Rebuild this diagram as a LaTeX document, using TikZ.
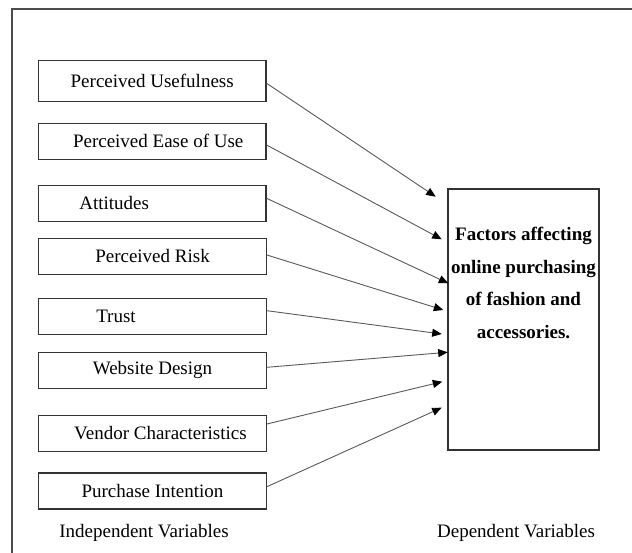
\documentclass[tikz,border=0pt]{standalone}
\usepackage{fontspec}
\setmainfont{Liberation Serif}
\usetikzlibrary{arrows.meta}
\begin{document}
\begin{tikzpicture}[x=1pt,y=-1pt,
  ivbox/.style={draw=black!80, line width=1.3pt, minimum width=227.5pt, minimum height=36pt, inner sep=0pt, font=\fontsize{19}{23}\selectfont},
  conn/.style={draw=black!65, line width=0.9pt, -{Triangle[length=9.5pt,width=8pt,color=black]}},
  lbl/.style={font=\fontsize{19}{23}\selectfont, inner sep=0pt}]
\useasboundingbox (0,0) rectangle (632,553);
\draw[black!70, line width=2pt] (632,9) -- (12,9) -- (12,553);

\node[ivbox, minimum height=41pt] (b1) at (152.2,80.8) {Perceived Usefulness};
\node[ivbox] (b2) at (152.2,141.2) {\hspace*{12pt}Perceived Ease of Use};
\node[ivbox] (b3) at (152.2,203.3) {Attitudes\hspace*{76pt}};
\node[ivbox] (b4) at (152.5,256.3) {Perceived Risk};
\node[ivbox] (b5) at (152.5,316.3) {Trust\hspace*{73pt}};
\node[ivbox] (b6) at (152.5,370.2) {Website Design};
\node[ivbox] (b7) at (152.5,433.2) {\hspace*{16pt}Vendor Characteristics};
\node[ivbox] (b8) at (152.5,491) {Purchase Intention};

\node[draw=black!80, line width=1.3pt, minimum width=151pt, minimum height=261pt, inner sep=0pt] (dv) at (523.5,319.5) {};
\node[font=\bfseries\fontsize{19}{32.7}\selectfont, align=center, inner sep=0pt, anchor=north] (dvt) at (523.5,227)
  {Factors affecting\\online purchasing\\of fashion and\\accessories.};

\coordinate (t1) at (435.7,196.7);
\coordinate (t2) at (441.7,239.3);
\coordinate (t3) at (448.3,283.3);
\coordinate (t4) at (443.3,310);
\coordinate (t5) at (441.7,334);
\coordinate (t6) at (447.7,352.3);
\coordinate (t7) at (442.3,381.7);
\coordinate (t8) at (441.7,407.7);

\draw[conn] ([yshift=-2.5pt]b1.east) -- (t1);
\draw[conn] ([yshift=-3.8pt]b2.east) -- (t2);
\draw[conn] ([yshift=5pt]b3.east) -- (t3);
\draw[conn] ([yshift=1.3pt]b4.east) -- (t4);
\draw[conn] ([yshift=5.6pt]b5.east) -- (t5);
\draw[conn] ([yshift=2.9pt]b6.east) -- (t6);
\draw[conn] ([yshift=9.2pt]b7.east) -- (t7);
\draw[conn] ([yshift=4.3pt]b8.east) -- (t8);

\node[lbl] (iv) at (144,533) {Independent Variables};
\node[lbl] (dvl) at (516,533) {Dependent Variables};
\end{tikzpicture}
\end{document}
